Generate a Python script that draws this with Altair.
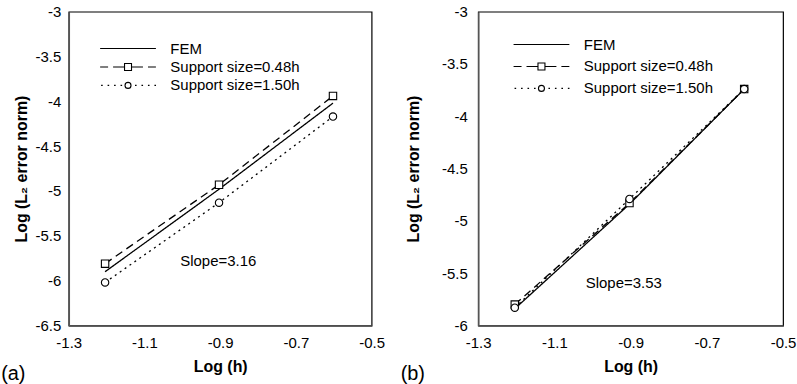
import altair as alt
import pandas as pd

FONT = "Liberation Sans"

series_names = ["FEM", "Support size=0.48h", "Support size=1.50h"]
marker_names = ["Support size=0.48h", "Support size=1.50h"]
log_h = [-1.204, -0.903, -0.602]

# panel (a)
a_fem = [-5.90, -4.98, -4.02]
a_s048 = [-5.81, -4.93, -3.94]
a_s150 = [-6.02, -5.13, -4.17]
a_y_ticks = [-3, -3.5, -4, -4.5, -5, -5.5, -6, -6.5]
a_slope_text = ["Slope=3.16"]
a_slope_x = [-0.905]
a_slope_y = [-5.78]

# panel (b)
b_fem = [-5.84, -4.84, -3.74]
b_s048 = [-5.80, -4.83, -3.74]
b_s150 = [-5.83, -4.79, -3.74]
b_y_ticks = [-3, -3.5, -4, -4.5, -5, -5.5, -6]
b_slope_text = ["Slope=3.53"]
b_slope_x = [-0.918]
b_slope_y = [-5.59]

x_ticks = [-1.3, -1.1, -0.9, -0.7, -0.5]
panel_labels = ["(a)", "(b)"]

# legend glyphs (pixel-unit SVG paths: line style with its marker in the middle)
legend_glyphs = [
    "M-57,0H-1",
    "M-57,0H-49M-44,0H-32.5M-32.5,-3.5H-25.5V3.5H-32.5ZM-25.5,0H-14M-9,0H-1",
    "M-56,0h1.6M-49.5,0h1.6M-43,0h1.6M-36.5,0h1.6"
    "M-26,0A3,3 0 1,1 -32,0A3,3 0 1,1 -26,0Z"
    "M-22,0h1.6M-15.5,0h1.6M-9,0h1.6M-2.5,0h1.6",
]


def panel(fem, s048, s150, yticks, stext, sx, sy, label, w, h,
          ylab_pad, ytitle_pad, leg_x, leg_y, leg_row_pad, title_dx):
    rows = []
    for name, vals in zip(series_names, [fem, s048, s150]):
        for x, y in zip(log_h, vals):
            rows.append({"series": name, "mk": name, "x": x, "y": y})
    df = pd.DataFrame(rows)
    tdf = pd.DataFrame({"t": stext, "x": sx, "y": sy})

    xenc = alt.X(
        "x:Q",
        scale=alt.Scale(domain=[-1.3, -0.5], nice=False, zero=False),
        axis=alt.Axis(values=x_ticks, labelExpr="'' + datum.value",
                      title="Log (h)", labelFlush=False, labelPadding=10,
                      titlePadding=8),
    )
    yenc = alt.Y(
        "y:Q",
        scale=alt.Scale(domain=[min(yticks), -3], nice=False, zero=False),
        axis=alt.Axis(values=yticks, labelExpr="'' + datum.value",
                      title="Log (L\u2082 error norm)", labelPadding=ylab_pad,
                      titlePadding=ytitle_pad),
    )

    lines = alt.Chart(df).mark_line(color="black").encode(
        x=xenc,
        y=yenc,
        strokeDash=alt.StrokeDash(
            "series:N",
            scale=alt.Scale(domain=series_names, range=[[1, 0], [8, 5], [2, 4]]),
            legend=None,
        ),
        strokeWidth=alt.StrokeWidth(
            "series:N",
            scale=alt.Scale(domain=series_names, range=[1.3, 1.3, 1.0]),
            legend=None,
        ),
    )

    points = alt.Chart(df).transform_filter(
        alt.datum.series != "FEM"
    ).mark_point(filled=False, fill="white", fillOpacity=1, stroke="black",
                 strokeWidth=1.1, opacity=1, size=55).encode(
        x="x:Q",
        y="y:Q",
        shape=alt.Shape(
            "mk:N",
            scale=alt.Scale(domain=marker_names, range=["square", "circle"]),
            legend=None,
        ),
    )

    legend_layer = alt.Chart(df).transform_filter("false").mark_point(
        filled=False, stroke="black", opacity=1, strokeWidth=1.1
    ).encode(
        x="x:Q",
        y="y:Q",
        shape=alt.Shape(
            "series:N",
            scale=alt.Scale(domain=series_names, range=legend_glyphs),
            legend=alt.Legend(
                title=None, orient="none", legendX=leg_x + 56, legendY=leg_y,
                symbolSize=4, symbolStrokeColor="black", symbolFillColor="white",
                symbolStrokeWidth=1.1, symbolOpacity=1,
                labelFont=FONT, labelFontSize=15, labelColor="black",
                labelOffset=6, rowPadding=leg_row_pad, padding=0, labelLimit=300,
            ),
        ),
    )

    text = alt.Chart(tdf).mark_text(font=FONT, fontSize=15, color="black").encode(
        x="x:Q", y="y:Q", text="t:N"
    )

    return alt.layer(lines, points, legend_layer, text).resolve_scale(
        shape="independent"
    ).properties(
        width=w, height=h,
        title=alt.TitleParams(label, orient="bottom", anchor="start",
                              frame="bounds", dx=title_dx, dy=-10, offset=0,
                              font=FONT, fontSize=20, fontWeight="normal",
                              color="black"),
    )


left = panel(a_fem, a_s048, a_s150, a_y_ticks, a_slope_text, a_slope_x,
             a_slope_y, panel_labels[0], 304, 315, 8, 6, 25, 29.5, 2.5, -12)
right = panel(b_fem, b_s048, b_s150, b_y_ticks, b_slope_text, b_slope_x,
              b_slope_y, panel_labels[1], 306, 315, 11, 20, 29, 25.5, 6, -5)

chart = alt.hconcat(left, right, spacing=14).properties(
    padding={"left": 0, "top": 3, "right": 0, "bottom": 0},
    background="white",
).configure_view(stroke="black", strokeWidth=1.2).configure_axis(
    domainColor="#555", domainWidth=1.6, ticks=False, grid=False,
    labelFont=FONT, labelFontSize=15, labelColor="black",
    titleFont=FONT, titleFontSize=16, titleFontWeight="bold", titleColor="black",
)

chart.save("out.html", embed_options={"renderer": "svg", "actions": False})
